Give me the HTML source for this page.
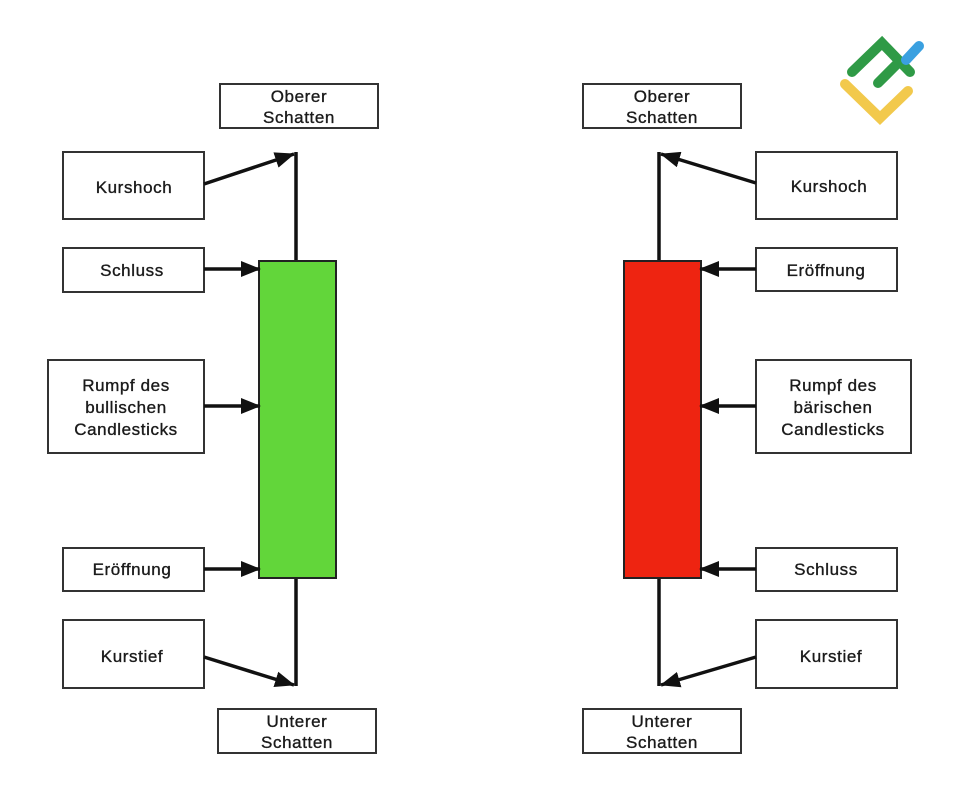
<!DOCTYPE html>
<html><head><meta charset="utf-8"><style>
html,body{margin:0;padding:0;background:#fff;}
svg text{font-family:"Liberation Sans",sans-serif;font-size:17px;fill:#1a1a1a;stroke:#1a1a1a;stroke-width:0.35px;letter-spacing:0.6px;text-anchor:middle;}
</style></head><body>
<svg width="964" height="803" viewBox="0 0 964 803" xmlns="http://www.w3.org/2000/svg">
<defs>
<marker id="b" markerWidth="20" markerHeight="16" refX="19" refY="8" orient="auto" markerUnits="userSpaceOnUse" viewBox="0 0 20 16">
<path d="M0,0 L20,8 L0,16 z" fill="#111"/>
</marker>
</defs>
<rect width="964" height="803" fill="#fff"/>
<g stroke-linecap="round" fill="none" stroke-width="10">
<path d="M845,84 L880,118 L908,91" stroke="#f2c94c"/>
<path d="M852,72 L882,43 L910,72" stroke="#2f9a46"/>
<path d="M878,83 L899,62" stroke="#2f9a46"/>
<path d="M906,60 L919,46" stroke="#3aa0e0"/>
</g>
<g fill="#fff" stroke="#333" stroke-width="2">
<rect x="220" y="84" width="158" height="44"/>
<rect x="63" y="152" width="141" height="67"/>
<rect x="63" y="248" width="141" height="44"/>
<rect x="48" y="360" width="156" height="93"/>
<rect x="63" y="548" width="141" height="43"/>
<rect x="63" y="620" width="141" height="68"/>
<rect x="218" y="709" width="158" height="44"/>
<rect x="583" y="84" width="158" height="44"/>
<rect x="756" y="152" width="141" height="67"/>
<rect x="756" y="248" width="141" height="43"/>
<rect x="756" y="360" width="155" height="93"/>
<rect x="756" y="548" width="141" height="43"/>
<rect x="756" y="620" width="141" height="68"/>
<rect x="583" y="709" width="158" height="44"/>
</g>
<g stroke="#111" stroke-width="3.5">
<line x1="296" y1="152" x2="296" y2="261"/>
<line x1="296" y1="578" x2="296" y2="686"/>
<line x1="659" y1="152" x2="659" y2="261"/>
<line x1="659" y1="578" x2="659" y2="686"/>
</g>
<rect x="259" y="261" width="77" height="317" fill="#62d63a" stroke="#222" stroke-width="2"/>
<rect x="624" y="261" width="77" height="317" fill="#ee2411" stroke="#222" stroke-width="2"/>
<g stroke="#111" stroke-width="3.5" marker-end="url(#b)">
<line x1="204" y1="184" x2="294" y2="154"/>
<line x1="204" y1="269" x2="260" y2="269"/>
<line x1="204" y1="406" x2="260" y2="406"/>
<line x1="204" y1="569" x2="260" y2="569"/>
<line x1="204" y1="657" x2="294" y2="685"/>
<line x1="756" y1="183" x2="661" y2="154"/>
<line x1="756" y1="269" x2="700" y2="269"/>
<line x1="756" y1="406" x2="700" y2="406"/>
<line x1="756" y1="569" x2="700" y2="569"/>
<line x1="756" y1="657" x2="661" y2="685"/>
</g>
<text x="299" y="102">Oberer</text><text x="299" y="123">Schatten</text>
<text x="134" y="193">Kurshoch</text>
<text x="132" y="276">Schluss</text>
<text x="126" y="391">Rumpf des</text><text x="126" y="413">bullischen</text><text x="126" y="435">Candlesticks</text>
<text x="132" y="575">Eröffnung</text>
<text x="132" y="662">Kurstief</text>
<text x="297" y="727">Unterer</text><text x="297" y="748">Schatten</text>
<text x="662" y="102">Oberer</text><text x="662" y="123">Schatten</text>
<text x="829" y="192">Kurshoch</text>
<text x="826" y="276">Eröffnung</text>
<text x="833" y="391">Rumpf des</text><text x="833" y="413">bärischen</text><text x="833" y="435">Candlesticks</text>
<text x="826" y="575">Schluss</text>
<text x="831" y="662">Kurstief</text>
<text x="662" y="727">Unterer</text><text x="662" y="748">Schatten</text>
</svg>
</body></html>
